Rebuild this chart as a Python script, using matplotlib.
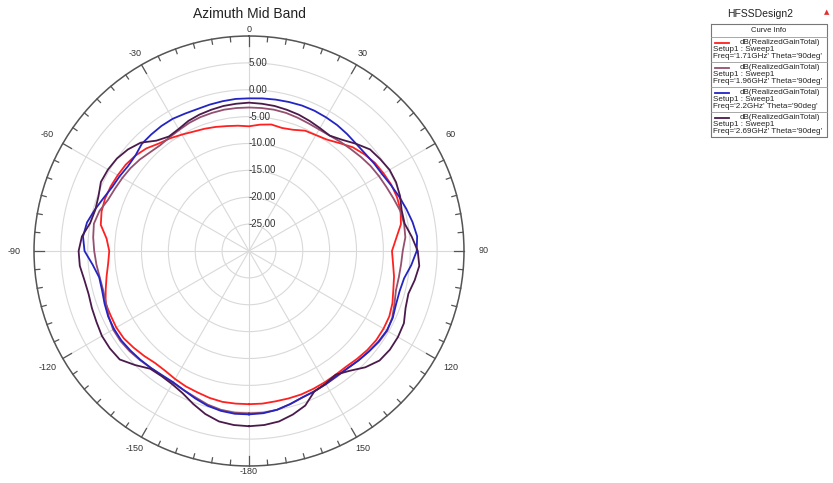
import numpy as np
import matplotlib
matplotlib.use('Agg')
import matplotlib.pyplot as plt
from matplotlib.lines import Line2D

plt.rcParams['font.family'] = ['Liberation Sans', 'DejaVu Sans']

# azimuth angle (deg) and realized gain (dB)
angles = list(range(-180, 180, 5))

gain_171 = [-1.5, -1.5, -1.5, -1.7, -2.0, -2.2, -2.5, -2.8, -2.8, -2.4,
            -2.0, -1.6, -1.5, -1.6, -1.6, -2.4, -3.1, -3.7, -4.0, -3.4,
            -2.0, -1.6, -1.5, -1.6, -1.8, -2.0, -2.4, -3.0, -3.9, -4.4,
            -5.0, -5.5, -5.8, -6.1, -6.4, -6.6, -6.8, -6.4, -6.1, -6.3,
            -6.0, -5.3, -5.1, -4.7, -3.8, -2.7, -2.0, -1.4, -1.1, -0.8,
            -0.7, -0.8, -1.3, -2.5, -3.4, -3.1, -2.6, -2.2, -1.6, -1.2,
            -1.1, -1.1, -1.3, -1.6, -1.9, -1.9, -1.8, -1.7, -1.6, -1.6,
            -1.6, -1.5]

gain_196 = [0.2, 0.2, 0.0, -0.4, -1.0, -1.4, -1.7, -1.7, -1.6, -1.3,
            -1.0, -0.8, -0.8, -1.2, -1.7, -1.9, -1.8, -1.5, -1.2, -0.9,
            -0.7, -1.2, -2.1, -2.5, -2.8, -3.1, -3.5, -4.0, -4.3, -4.2,
            -4.0, -3.7, -3.5, -3.4, -3.3, -3.3, -3.3, -3.3, -3.3, -3.4,
            -3.6, -3.8, -3.9, -3.8, -3.5, -3.2, -2.8, -2.4, -2.1, -1.8,
            -1.4, -0.9, -0.7, -0.8, -1.4, -1.6, -1.7, -1.7, -1.2, -0.6,
            -0.3, -0.5, -0.9, -1.2, -1.5, -1.5, -1.4, -1.2, -1.0, -0.5,
            0.0, 0.2]

gain_220 = [0.4, 0.4, 0.2, -0.2, -0.8, -1.4, -1.8, -1.8, -1.6, -1.4,
            -1.2, -1.0, -1.0, -1.1, -1.4, -1.7, -1.7, -0.8, 0.6, 1.0,
            0.6, -0.3, -1.2, -1.9, -2.2, -2.5, -2.4, -1.8, -1.7, -1.6,
            -1.6, -1.8, -1.9, -1.8, -1.7, -1.6, -1.6, -1.5, -1.4, -1.3,
            -1.2, -1.2, -1.3, -1.4, -1.6, -1.8, -1.8, -1.6, -1.4, -0.9,
            -0.3, 0.3, 0.9, 1.4, 1.2, 0.3, -0.7, -1.0, -0.9, -0.5,
            -0.4, -0.6, -0.9, -1.2, -1.5, -1.6, -1.4, -1.2, -1.0, -0.5,
            0.0, 0.3]

gain_269 = [2.6, 2.5, 2.2, 1.4, 0.3, -0.8, -1.4, -1.6, -1.4, 0.0,
            1.4, 1.6, 1.6, 1.3, 1.1, 0.9, 1.1, 1.6, 1.7, 1.2,
            0.0, -0.4, -0.2, 0.4, 0.3, 0.0, -0.6, -1.5, -3.2, -4.0,
            -3.8, -3.3, -3.0, -2.8, -2.6, -2.5, -2.4, -2.5, -2.6, -2.8,
            -3.0, -3.3, -3.6, -3.8, -3.0, -1.8, -0.6, -0.2, 0.2, 0.2,
            -0.1, -0.6, -0.6, 0.4, 1.4, 1.8, 1.3, 0.7, 1.0, 1.8,
            2.0, 2.0, 1.7, 0.6, -0.9, -1.9, -1.5, -1.2, 0.6, 1.5,
            2.2, 2.5]

freqs = ['1.71GHz', '1.96GHz', '2.2GHz', '2.69GHz']
colors = ['#ff2020', '#94506e', '#2424c4', '#4a1a4c']
series = [gain_171, gain_196, gain_220, gain_269]

ring_vals = [-25, -20, -15, -10, -5, 0, 5]
theta_pos = [0, 30, 60, 90, 120, 150, 180, 210, 240, 270, 300, 330]
theta_lbl = ['0', '30', '60', '90', '120', '150', '-180', '-150', '-120',
             '-90', '-60', '-30']

W, H = 833, 483
fig = plt.figure(figsize=(W / 100, H / 100), dpi=100)
cx, cy, R = 249, 251, 215
ax = fig.add_axes([(cx - R) / W, (H - cy - R) / H, 2 * R / W, 2 * R / H],
                  projection='polar')
ax.set_theta_zero_location('N')
ax.set_theta_direction(-1)
rmin, rmax = -30, 10
ax.set_ylim(rmin, rmax)
px_per_db = R / (rmax - rmin)

th = np.deg2rad(np.append(angles, angles[0]))
for vals, c in zip(series, colors):
    ax.plot(th, np.append(vals, vals[0]), color=c, lw=1.3)

ax.set_yticks(ring_vals + [rmax])
ax.set_yticklabels([])
for v in ring_vals:
    ax.text(0, v, f'{v:.2f}', ha='left', va='center', fontsize=7,
            color='#333333')

ax.set_thetagrids(theta_pos, [])
ax.tick_params(axis='x', which='both', length=0)
ax.grid(True, color='#d9d9d9', lw=0.8)
ax.spines['polar'].set_color('#555555')
ax.spines['polar'].set_linewidth(1.1)

# angle labels, a little farther out at the sides than at top/bottom
for a, lbl in zip(theta_pos, theta_lbl):
    t = np.deg2rad(a)
    d = 221 + 14 * abs(np.sin(t))
    ax.text(t, rmax + (d - R) / px_per_db, lbl, ha='center', va='center',
            fontsize=6.5, color='#333333')

# inward tick marks on the outer circle, every 5 deg, longer every 30 deg
for a in range(0, 360, 5):
    ln = 10 if a % 30 == 0 else 5
    t = np.deg2rad(a)
    ax.plot([t, t], [rmax - ln / px_per_db, rmax], color='#555555',
            lw=0.9, clip_on=False)

fig.text(cx / W, 1 - 14 / H, 'Azimuth Mid Band', ha='center', va='center',
         fontsize=10, color='#222222')


# legend box on the right, drawn in pixel positions
def px(x, y):
    return x / W, 1 - y / H


fig.text(*px(760, 14), 'HFSSDesign2', ha='center', va='center',
         fontsize=7.5, color='#222222')
fig.text(*px(827, 12), '\u25b2', ha='center', va='center', fontsize=5,
         color='#e03030', family=['DejaVu Sans'])

top, step = 24, 25
bottom = 37 + step * len(freqs)
box_x = [711, 827, 827, 711, 711]
box_y = [top, top, bottom, bottom, top]
fig.add_artist(Line2D([x / W for x in box_x], [1 - y / H for y in box_y],
                      color='#777777', lw=0.8))
fig.text(*px(769, 31), 'Curve Info', ha='center', va='center', fontsize=5.5,
         color='#222222')
y0 = 37
for i, (f, c) in enumerate(zip(freqs, colors)):
    ys = y0 + i * step
    fig.add_artist(Line2D([711 / W, 827 / W], [1 - ys / H, 1 - ys / H],
                          color='#999999', lw=0.6))
    ly = ys + 5.5
    fig.add_artist(Line2D([715 / W, 729 / W], [1 - ly / H, 1 - ly / H],
                          color=c, lw=1.3))
    fig.text(*px(740, ly), 'dB(RealizedGainTotal)', ha='left', va='center',
             fontsize=5.8, color='#222222')
    fig.text(*px(713, ly + 7.2), 'Setup1 : Sweep1', ha='left', va='center',
             fontsize=5.8, color='#222222')
    fig.text(*px(713, ly + 14.4), f"Freq='{f}' Theta='90deg'", ha='left',
             va='center', fontsize=5.8, color='#222222')

fig.savefig('out.png', dpi=100)
